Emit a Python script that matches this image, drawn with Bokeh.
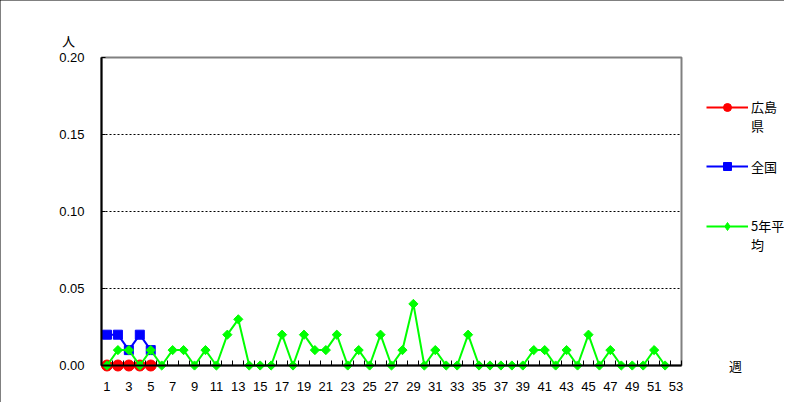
from math import pi
from bokeh.plotting import figure
from bokeh.models import Range1d, FixedTicker, Legend, LegendItem, Label, NumeralTickFormatter
from bokeh.embed import file_html
from bokeh.resources import INLINE

# ---- data ----
# legend labels wrap like the original; the leading blank line keeps each
# swatch level with the first line of its label
series_names = ["\n広島\n県", "全国", "\n5年平\n均"]
weeks_hiroshima = [1, 2, 3, 4, 5]
hiroshima = [0, 0, 0, 0, 0]
weeks_zenkoku = [1, 2, 3, 4, 5]
zenkoku = [0.02, 0.02, 0.01, 0.02, 0.01]
weeks_avg = list(range(1, 53))
avg5 = [0, 0.01, 0.01, 0, 0.01, 0, 0.01, 0.01, 0, 0.01,
        0, 0.02, 0.03, 0, 0, 0, 0.02, 0, 0.02, 0.01,
        0.01, 0.02, 0, 0.01, 0, 0.02, 0, 0.01, 0.04, 0,
        0.01, 0, 0, 0.02, 0, 0, 0, 0, 0, 0.01,
        0.01, 0, 0.01, 0, 0.02, 0, 0.01, 0, 0, 0,
        0.01, 0]
x_tick_values = list(range(1, 54, 2))
x_boundaries = [i + 0.5 for i in range(0, 54)]
y_tick_values = [0, 0.05, 0.10, 0.15, 0.20]
y_grid_values = [0.05, 0.10, 0.15]
y_unit = "人"
x_unit = "週"

# axis extents (data)
X_LO, X_HI = 0.5, 53.5
Y_LO, Y_HI = 0.0, 0.20

# ---- layout (pixels) ----
W, H = 784, 402
PLOT_L, PLOT_R, PLOT_T, PLOT_B = 101, 681, 57, 365
px_per_x = (PLOT_R - PLOT_L) / (X_HI - X_LO)
px_per_y = (PLOT_B - PLOT_T) / (Y_HI - Y_LO)
xr = Range1d(X_LO - PLOT_L / px_per_x, X_HI + (W - PLOT_R) / px_per_x)
yr = Range1d(Y_LO - (H - PLOT_B) / px_per_y, Y_HI + PLOT_T / px_per_y)

NUM_FONT = "Liberation Sans"
CJK_FONT = "Noto Sans CJK JP"

p = figure(width=W, height=H, x_range=xr, y_range=yr,
           output_backend="svg", toolbar_location=None,
           min_border_left=0, min_border_right=0,
           min_border_top=0, min_border_bottom=0,
           background_fill_color="white", border_fill_color="white",
           styles={"outline": "1px solid black", "outline-offset": "-1px"})
p.outline_line_color = None
p.xgrid.grid_line_color = None
p.ygrid.grid_line_color = None

# plot-area border (gray top/right)
p.quad(left=[X_LO], right=[X_HI], bottom=[Y_LO], top=[Y_HI],
       fill_color=None, line_color="#808080", line_width=2)

# dotted horizontal grid lines, limited to the plot area
p.segment(x0=[X_LO] * len(y_grid_values), x1=[X_HI] * len(y_grid_values),
          y0=y_grid_values, y1=y_grid_values,
          line_color="black", line_width=1, line_dash="2 2")

# x axis
xa = p.xaxis[0]
xa.fixed_location = Y_LO
xa.bounds = (X_LO, X_HI)
xa.ticker = FixedTicker(ticks=x_tick_values, minor_ticks=x_boundaries)
xa.major_tick_line_color = None
xa.minor_tick_in = 5
xa.minor_tick_out = 0
xa.minor_tick_line_color = "black"
xa.axis_line_color = "black"
xa.axis_line_width = 2
xa.major_label_text_font = NUM_FONT
xa.major_label_text_font_size = "13px"
xa.major_label_text_color = "black"
xa.major_label_standoff = 10

# y axis
ya = p.yaxis[0]
ya.fixed_location = X_LO
ya.bounds = (Y_LO, Y_HI)
ya.ticker = FixedTicker(ticks=y_tick_values)
ya.formatter = NumeralTickFormatter(format="0.00")
ya.major_tick_in = 4
ya.major_tick_out = 0
ya.minor_tick_line_color = None
ya.axis_line_color = "black"
ya.axis_line_width = 2
ya.major_label_text_font = NUM_FONT
ya.major_label_text_font_size = "13px"
ya.major_label_text_color = "black"
ya.major_label_standoff = 17

# series
r1l = p.line(weeks_hiroshima, hiroshima, line_color="#ff0000", line_width=2)
r1s = p.scatter(weeks_hiroshima, hiroshima, marker="circle", size=11,
                fill_color="#ff0000", line_color="#ff0000")
r2l = p.line(weeks_zenkoku, zenkoku, line_color="#0000ff", line_width=2)
r2s = p.scatter(weeks_zenkoku, zenkoku, marker="square", size=9,
                fill_color="#0000ff", line_color="#0000ff")
r3l = p.line(weeks_avg, avg5, line_color="#00ff00", line_width=2)
# slim diamonds (used as the legend swatch) sit fully under the wider point markers
r3k = p.scatter(weeks_avg, avg5, marker="diamond", size=7,
                fill_color="#00ff00", line_color="#00ff00")
r3s = p.scatter(weeks_avg, avg5, marker="square", size=6.5, angle=pi / 4,
                fill_color="#00ff00", line_color="#00ff00")

legend = Legend(items=[
    LegendItem(label=series_names[0], renderers=[r1l, r1s]),
    LegendItem(label=series_names[1], renderers=[r2l, r2s]),
    LegendItem(label=series_names[2], renderers=[r3l, r3k]),
], location=(706, 148))
legend.glyph_width = 42
legend.glyph_height = 20
legend.label_standoff = 3
legend.spacing = 21
legend.padding = 0
legend.margin = 0
legend.border_line_color = None
legend.background_fill_alpha = 0
legend.label_text_font = CJK_FONT
legend.label_text_font_size = "13px"
legend.label_text_color = "black"
p.add_layout(legend, "center")

p.add_layout(Label(x=68, y=H - 40, x_units="screen", y_units="screen", text=y_unit,
                   text_align="center", text_baseline="middle",
                   text_font=CJK_FONT, text_font_size="13px", text_color="black"))
p.add_layout(Label(x=735, y=H - 365, x_units="screen", y_units="screen", text=x_unit,
                   text_align="center", text_baseline="middle",
                   text_font=CJK_FONT, text_font_size="13px", text_color="black"))

open("out.html", "w").write(file_html(p, INLINE))
